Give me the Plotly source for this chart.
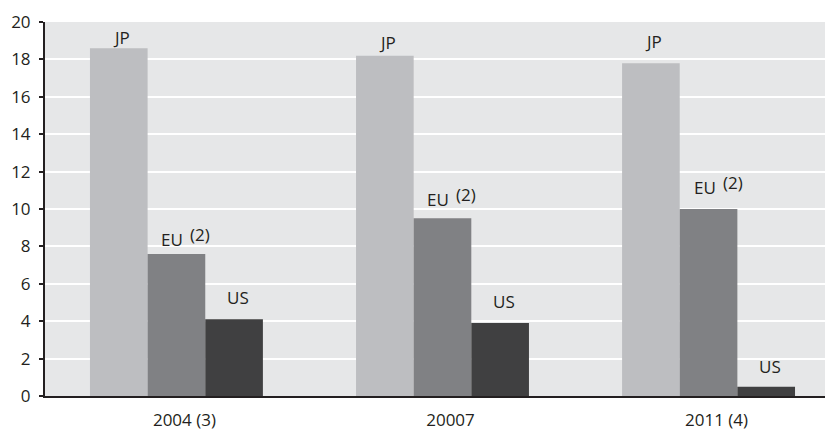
import plotly.graph_objects as go

categories = ["2004 (3)", "20007", "2011 (4)"]
series_names = ["JP", "EU", "US"]
jp_values = [18.6, 18.2, 17.8]
eu_values = [7.6, 9.5, 10.0]
us_values = [4.1, 3.9, 0.5]
y_ticks = [0, 2, 4, 6, 8, 10, 12, 14, 16, 18, 20]
eu_note = "(2)"

colors = ["#bdbec1", "#808184", "#404041"]
label_gap_px = [[11, 13, 22], [14, 19, 22], [22, 22, 20]]
label_xshift = [3, -4, 4]

FONT = "'Open Sans', Lato, sans-serif"
TXT = "#231f20"
FS = 17

bargap = 0.35
bar_w = (1 - bargap) / 3

x_idx = list(range(len(categories)))
all_values = [jp_values, eu_values, us_values]

fig = go.Figure()
for name, vals, col in zip(series_names, all_values, colors):
    fig.add_trace(go.Bar(x=x_idx, y=vals, name=name, marker=dict(color=col, line=dict(width=0)),
                         hoverinfo="skip"))

annotations = []
for s, (vals, name) in enumerate(zip(all_values, series_names)):
    for i, v in enumerate(vals):
        bx = i + (s - 1) * bar_w
        annotations.append(dict(
            x=bx, y=v, xref="x", yref="y",
            text=name, showarrow=False, xanchor="center", yanchor="middle",
            xshift=label_xshift[s], yshift=label_gap_px[s][i],
            font=dict(family=FONT, size=FS, color=TXT)))
        if name == "EU":
            annotations.append(dict(
                x=bx, y=v, xref="x", yref="y",
                text=eu_note, showarrow=False, xanchor="left", yanchor="middle",
                xshift=12, yshift=label_gap_px[s][i] + 5,
                font=dict(family=FONT, size=FS, color=TXT)))

# the page body adds an 8px offset at top-left, so the figure is 8px smaller
fig.update_layout(
    width=825, height=422,
    margin=dict(l=37, r=1, t=14, b=34),
    paper_bgcolor="white", plot_bgcolor="#e6e7e8",
    barmode="group", bargap=bargap, bargroupgap=0,
    showlegend=False,
    annotations=annotations,
    font=dict(family=FONT, size=FS, color=TXT),
)
fig.update_xaxes(
    range=[-0.494, 2.464], tickmode="array", tickvals=x_idx, ticktext=categories,
    showgrid=False, zeroline=False, showline=True, linecolor=TXT, linewidth=2,
    ticks="", ticklabelshift=8, ticklabelstandoff=8, automargin=False,
    tickfont=dict(family=FONT, size=FS, color=TXT), fixedrange=True,
)
fig.update_yaxes(
    range=[0, 20], tickmode="array", tickvals=y_ticks,
    showgrid=True, gridcolor="white", gridwidth=2, zeroline=False,
    showline=True, linecolor=TXT, linewidth=2, automargin=False,
    ticks="outside", ticklen=4, tickwidth=2, tickcolor=TXT, ticklabelstandoff=5,
    tickfont=dict(family=FONT, size=FS, color=TXT), fixedrange=True,
)

fig.write_html("out.html")
